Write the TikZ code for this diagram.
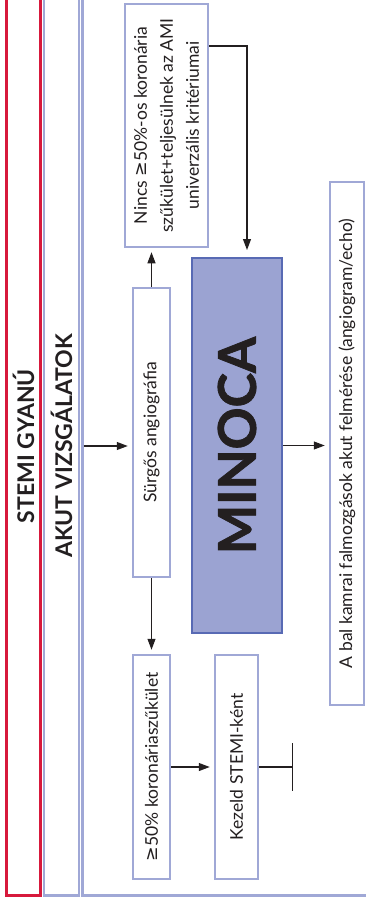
\documentclass[tikz,border=0pt]{standalone}
\usepackage{fontspec}
\setmainfont{Lato}
\newfontfamily\symfont{DejaVu Sans}
\usetikzlibrary{arrows.meta}
\definecolor{stemired}{HTML}{D7193C}
\definecolor{frameblue}{HTML}{A0A8D6}
\definecolor{minocafill}{HTML}{9BA3D2}
\definecolor{minocaline}{HTML}{586AB4}
\definecolor{inkgray}{HTML}{231F20}

\begin{document}
\begin{tikzpicture}[
    x=1pt, y=-1pt,
    box/.style={draw=frameblue, line width=2.5pt, fill=white, rotate=90, inner sep=0pt,
        align=center, text=inkgray, font=\fontsize{17.5}{26}\selectfont},
    title/.style={rotate=90, text=inkgray, font=\fontsize{23}{26}\selectfont\bfseries},
    arrow/.style={line width=1.1pt, draw=inkgray, shorten >=4pt, -{Triangle[length=11pt,width=8pt]}}
]
\useasboundingbox (0,0) rectangle (366,902);
\clip (0,0) rectangle (366,902);

% Keretek
\draw[stemired, line width=2.5pt] (6.5,-10) -- (6.5,895.5) -- (40.5,895.5) -- (40.5,-10);
\draw[frameblue, line width=2.5pt] (44,-10) -- (44,895.5) -- (79,895.5) -- (79,-10);
\draw[frameblue, line width=3pt] (82,-10) -- (82,895.5) -- (380,895.5);

% Cimek
\node[title] (gyanu) at (23.5,446) {STEMI GYANÚ};
\node[title] (akut) at (61.5,446) {AKUT VIZSGÁLATOK};

% Dobozok
\node[box, minimum width=289pt, minimum height=37pt] (angio) at (151.5,432.5) {Sürgős angiográfia};
\node[box, minimum width=243pt, minimum height=83pt] (nincs) at (166.5,125.5)
    {Nincs {\symfont ≥}50\%-os koronária\\szűkület+teljesülnek az AMI\\univerzális kritériumai};
\node[box, draw=minocaline, fill=minocafill, line width=2pt, minimum width=375pt, minimum height=90pt,
    font=\fontsize{52}{52}\selectfont\bfseries\addfontfeature{FakeBold=1.5}] (minoca) at (237,445.5) {MINOCA};
\node[box, minimum width=523pt, minimum height=34pt] (lv) at (347,443.5)
    {A bal kamrai falmozgások akut felmérése (angiogram/echo)};
\node[box, minimum width=224pt, minimum height=37pt] (ge50) at (151.5,767) {{\symfont ≥}50\% koronáriaszűkület};
\node[box, minimum width=224pt, minimum height=43pt] (kezeld) at (236.5,767) {Kezeld STEMI-ként};

% Nyilak
\coordinate (akutedge) at (83.5,446);
\coordinate (nturn) at (247,46);
\draw[arrow] (akutedge) -- (akutedge -| angio.north);
\draw[arrow] (angio.east) -- (angio.east |- nincs.west);
\draw[arrow, shorten >=7pt] (nincs.south |- nturn) -- (nturn) -- (nturn |- minoca.east);
\draw[arrow] (minoca.south) -- (minoca.south -| lv.north);
\draw[arrow] (angio.west) -- (ge50.east);
\draw[arrow] (ge50.south) -- (kezeld.north);
\draw[line width=1.1pt, draw=inkgray, -{Bar[width=48pt]}] (kezeld.south) -- ++(34,0);

\end{tikzpicture}
\end{document}
